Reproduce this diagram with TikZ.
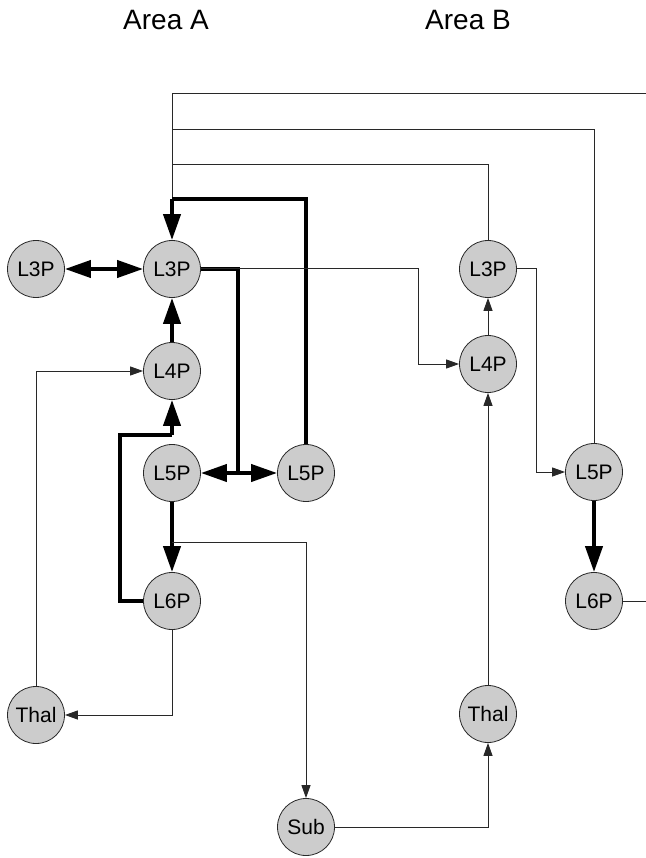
\documentclass[tikz,border=0pt]{standalone}
\usepackage{fontspec}
\setmainfont{Liberation Sans}
\usetikzlibrary{arrows.meta}
\definecolor{cellfill}{RGB}{204,204,204}
\definecolor{wire}{RGB}{40,40,40}
\tikzset{
  cell/.style={circle, draw=wire, line width=0.8pt, fill=cellfill, minimum size=57pt,
    inner sep=0pt, font=\fontsize{21}{22}\selectfont},
  thinline/.style={draw=wire, line width=1pt},
  thinarrow/.style={thinline, -{Triangle[length=13pt,width=9pt]}},
  thickline/.style={draw=black, line width=4pt},
  thickarrow/.style={thickline, -{Triangle[length=26pt,width=17pt]}},
  thickboth/.style={thickline, {Triangle[length=26pt,width=17pt]}-{Triangle[length=26pt,width=17pt]}},
  areatitle/.style={font=\fontsize{28}{30}\selectfont}
}
\begin{document}
\begin{tikzpicture}[x=1pt, y=-1pt]
\useasboundingbox (0,0) rectangle (645,858);

% area titles
\node[areatitle] (titleA) at (166,20) {Area A};
\node[areatitle] (titleB) at (468,20) {Area B};

% cells of area A
\node[cell] (a3l) at (36,269) {L3P};
\node[cell] (a3)  at (172,269) {L3P};
\node[cell] (a4)  at (172,371) {L4P};
\node[cell] (a5)  at (172,473) {L5P};
\node[cell] (a5r) at (306,473) {L5P};
\node[cell] (a6)  at (172,601) {L6P};
\node[cell] (tha) at (36,715) {Thal};
\node[cell] (sub) at (306,827) {Sub};

% cells of area B
\node[cell] (b3)  at (488,269) {L3P};
\node[cell] (b4)  at (488,364) {L4P};
\node[cell] (b5)  at (594,472) {L5P};
\node[cell] (b6)  at (594,601) {L6P};
\node[cell] (thb) at (488,714) {Thal};

% routing points
\coordinate (topjoin) at (172,199);
\coordinate (fbA) at (649,94);
\coordinate (fbB) at (172,130);
\coordinate (fbC) at (172,165);
\coordinate (jm) at (238,473);
\coordinate (cAB) at (418,269);
\coordinate (cL) at (120,435);
\coordinate (jl) at (172,435);
\coordinate (jd) at (172,542);
\coordinate (cB) at (536,269);

% feedback from area B to area A
\draw[thinline] (b6.east) -| (fbA) -| (topjoin);
\draw[thinline] (b5.north) |- (fbB);
\draw[thinline] (b3.north) |- (fbC);

% area A thick connections
\draw[thickline] (a5r.north) |- (topjoin);
\draw[thickarrow] (topjoin) -- (a3.north);
\draw[thickboth] (a3l) -- (a3);
\draw[thickarrow] (a4) -- (a3);
\draw[thickline] (a3.east) -| (jm);
\draw[thickarrow] (jm) -- (a5.east);
\draw[thickarrow] (jm) -- (a5r.west);
\draw[thickarrow] (a5) -- (a6);
\draw[thickline] (a6.west) -| (cL) -- (jl);
\draw[thickarrow] (jl) -- (a4.south);

% area A thin connections
\draw[thinarrow] (a3.east) -- (cAB) |- (b4.west);
\draw[thinarrow] (jd) -| (sub.north);
\draw[thinarrow] (a6.south) |- (tha.east);
\draw[thinarrow] (tha.north) |- (a4.west);

% area B connections
\draw[thinarrow] (sub.east) -| (thb.south);
\draw[thinarrow] (thb) -- (b4);
\draw[thinarrow] (b4) -- (b3);
\draw[thinarrow] (b3.east) -- (cB) |- (b5.west);
\draw[thickarrow] (b5) -- (b6);
\end{tikzpicture}
\end{document}
